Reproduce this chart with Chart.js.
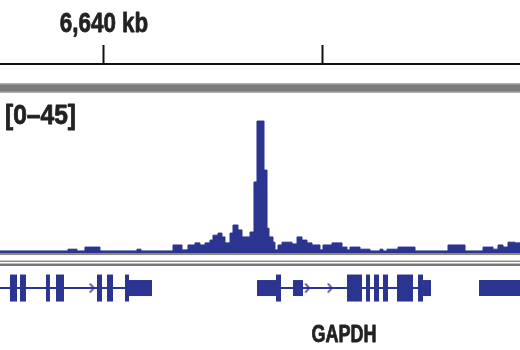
<!DOCTYPE html>
<html>
<head>
<meta charset="utf-8">
<script src="https://cdn.jsdelivr.net/npm/chart.js@4.4.0/dist/chart.umd.min.js"></script>
<style>
  html, body { margin: 0; padding: 0; background: #fff; }
  #wrap { width: 520px; height: 350px; }
</style>
</head>
<body>
<div id="wrap"><canvas id="chipChart" width="520" height="350"></canvas></div>
<script>
// ---- data (positions in kb, chr12) ----
const viewStart = 6637.615;
const viewEnd = 6649.541;
const rulerTicks = [6640, 6645];
const rulerLabels = ["6,640 kb", ""];
const rangeLabel = "[0\u201345]";

// ChIP signal: each value holds from its start until the next start
const signalStart = [
  6637.615, 6639.174, 6639.381, 6639.564, 6639.908, 6640.757, 6640.849, 6641.583,
  6641.789, 6641.927, 6642.087, 6642.202, 6642.317, 6642.431, 6642.500, 6642.615,
  6642.706, 6642.775, 6642.890, 6642.959, 6643.073, 6643.165, 6643.349, 6643.440,
  6643.509, 6643.670, 6643.739, 6643.784, 6643.876, 6643.922, 6643.991, 6644.083,
  6644.312, 6644.427, 6644.541, 6644.656, 6644.771, 6644.954, 6645.023, 6645.229,
  6645.459, 6645.573, 6645.642, 6645.872, 6646.101, 6646.330, 6646.399, 6646.491,
  6646.743, 6647.133, 6647.890, 6648.280, 6648.693, 6648.922, 6649.037, 6649.151,
  6649.266, 6649.427, 6649.541
];
const signalValue = [
  0.6, 1.1, 0.6, 1.7, 0.6, 1.1, 0.6, 2.3,
  0.9, 2.3, 2.9, 2.3, 2.9, 3.7, 5.1, 5.7,
  4.6, 2.9, 5.7, 8.0, 6.6, 4.6, 6.0, 20.3,
  37.7, 23.7, 7.1, 4.6, 3.1, 0.9, 2.3, 3.1,
  2.6, 4.6, 3.7, 2.9, 2.3, 0.9, 2.3, 2.9,
  1.7, 0.9, 1.7, 1.1, 0.6, 1.1, 0.6, 1.1,
  1.7, 0.6, 2.3, 0.6, 1.7, 1.1, 2.3, 1.7,
  3.1, 2.9, 2.9
];

// gene models
const introns = [[6637.0, 6640.573], [6643.509, 6647.50]];
const codingExons = [
  [6637.844, 6638.005], [6638.073, 6638.211], [6638.670, 6638.761], [6638.899, 6639.083],
  [6639.839, 6639.954], [6640.069, 6640.206], [6640.482, 6640.573],
  [6643.945, 6644.060], [6645.573, 6645.917], [6646.009, 6646.101], [6646.193, 6646.307],
  [6646.399, 6646.514], [6646.720, 6647.087], [6647.202, 6647.317]
];
const utrBlocks = [
  [6640.573, 6641.101], [6643.509, 6643.968], [6644.335, 6644.564],
  [6647.317, 6647.500], [6648.601, 6650.0]
];
const strandArrows = [6639.72, 6644.66, 6645.18];
const geneName = "GAPDH";
const geneNameAt = 6645.505;

// ---- look ----
const NAVY = "#2c3491";
const FONT = "'Liberation Sans', Arial, sans-serif";
const geneRow = -10;

const signalPoints = signalStart.map((x, i) => ({ x: x, y: signalValue[i] }));

const chevron = document.createElement("canvas");
chevron.width = 7;
chevron.height = 11;
(function () {
  const c = chevron.getContext("2d");
  c.strokeStyle = NAVY;
  c.lineWidth = 1.6;
  c.beginPath();
  c.moveTo(1.5, 1);
  c.lineTo(5.5, 5.5);
  c.lineTo(1.5, 10);
  c.stroke();
})();

function segment(range, width) {
  return {
    data: [{ x: range[0], y: geneRow }, { x: range[1], y: geneRow }],
    borderColor: NAVY,
    borderWidth: width,
    borderCapStyle: "butt",
    pointRadius: 0,
    fill: false
  };
}

const datasets = [{
  data: signalPoints,
  stepped: true,   // hold each value until the next start
  fill: "origin",
  backgroundColor: NAVY,
  borderColor: NAVY,
  borderWidth: 1,
  pointRadius: 0
}];
introns.forEach(r => datasets.push(segment(r, 2)));
utrBlocks.forEach(r => datasets.push(segment(r, 16)));
codingExons.forEach(r => datasets.push(segment(r, 27)));
datasets.push({
  data: strandArrows.map(x => ({ x: x, y: geneRow })),
  showLine: false,
  pointStyle: chevron,
  pointRadius: 5
});

// condensed heavy text, like the browser screenshot
function narrowText(ctx, text, x, y, size, squeeze, align) {
  ctx.save();
  ctx.font = "bold " + size + "px " + FONT;
  ctx.textBaseline = "alphabetic";
  ctx.textAlign = align;
  ctx.fillStyle = "#222";
  ctx.strokeStyle = "#222";
  ctx.lineWidth = 0.8;
  ctx.lineJoin = "round";
  ctx.translate(x, y);
  ctx.scale(squeeze, 1);
  ctx.fillText(text, 0, 0);
  ctx.strokeText(text, 0, 0);
  ctx.restore();
}

// separators and texts
const trackDecor = {
  id: "trackDecor",
  beforeDatasetsDraw(chart) {
    const ctx = chart.ctx;
    const y0 = chart.scales.y.getPixelForValue(0);
    ctx.save();
    ctx.fillStyle = "#b0b0b0";
    ctx.fillRect(0, 83, 520, 10);
    ctx.fillStyle = "#7a7a7a";
    ctx.fillRect(0, 84.5, 520, 7);
    ctx.fillStyle = "#8c8c6e";
    ctx.fillRect(0, y0, 520, 2);
    ctx.fillStyle = "#8a8a8a";
    ctx.fillRect(0, y0 + 7.5, 520, 1.5);
    ctx.fillStyle = "#767676";
    ctx.fillRect(0, y0 + 10.5, 520, 2.5);
    ctx.restore();
  },
  afterDraw(chart) {
    const ctx = chart.ctx;
    const x = chart.scales.x;
    rulerTicks.forEach((t, i) => {
      if (rulerLabels[i]) narrowText(ctx, rulerLabels[i], x.getPixelForValue(t), 32, 28, 0.8, "center");
    });
    narrowText(ctx, rangeLabel, 5, 124, 27, 0.91, "left");
    narrowText(ctx, geneName, x.getPixelForValue(geneNameAt), 342, 24, 0.75, "center");
  }
};

new Chart(document.getElementById("chipChart"), {
  type: "line",
  data: { datasets: datasets },
  options: {
    responsive: false,
    animation: false,
    events: [],
    layout: { autoPadding: false, padding: { top: 45, left: 0, right: 0, bottom: 0 } },
    plugins: { legend: { display: false }, tooltip: { enabled: false } },
    scales: {
      x: {
        type: "linear",
        position: "top",
        min: viewStart,
        max: viewEnd,
        afterBuildTicks: axis => { axis.ticks = rulerTicks.map(v => ({ value: v })); },
        ticks: { display: false },
        grid: { drawOnChartArea: false, drawTicks: true, tickLength: 19, tickWidth: 2, color: "#111" },
        border: { display: true, color: "#111", width: 2 }
      },
      y: {
        display: false,
        min: -27.7,
        max: 54
      }
    }
  },
  plugins: [trackDecor]
});
</script>
</body>
</html>
